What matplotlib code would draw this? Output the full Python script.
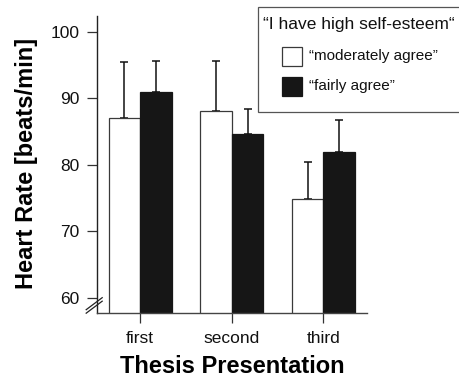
import matplotlib
matplotlib.use("Agg")
import numpy as np
import matplotlib.pyplot as plt
from matplotlib.patches import Rectangle
from matplotlib.lines import Line2D

plt.rcParams['font.family'] = ['Liberation Sans', 'DejaVu Sans']

# data
presentations = ["first", "second", "third"]
moderately_mean = [87.1, 88.1, 74.9]
moderately_sd = [8.35, 7.55, 5.5]
fairly_mean = [91.0, 84.7, 82.0]
fairly_sd = [4.55, 3.75, 4.7]
yticks = [60, 70, 80, 90, 100]
legend_title = '“I have high self-esteem“'
legend_labels = ['“moderately agree”', '“fairly agree”']

W, H = 460, 383
fig = plt.figure(figsize=(W / 100, H / 100), dpi=100)
ax = fig.add_axes([0.2102, 0.1836, 0.5876, 0.7746])

x = np.arange(len(presentations))
w = 0.345
zeros = np.zeros(len(x))
white_fc, white_ec = 'white', '#3a3a3a'
black_fc = '#161616'

ax.bar(x - w / 2, moderately_mean, w, color=white_fc, edgecolor=white_ec,
       linewidth=0.9, zorder=2)
ax.bar(x + w / 2, fairly_mean, w, color=black_fc, edgecolor=black_fc,
       linewidth=0.9, zorder=2)
ax.errorbar(x - w / 2, moderately_mean, yerr=[zeros, moderately_sd], fmt='none',
            ecolor='#111111', elinewidth=1.1, capsize=3, capthick=1.1, zorder=1)
ax.errorbar(x + w / 2, fairly_mean, yerr=[zeros, fairly_sd], fmt='none',
            ecolor='#111111', elinewidth=1.1, capsize=3, capthick=1.1, zorder=1)

ax.set_xlim(-0.474, 2.475)
ax.set_ylim(57.8, 102.35)
ax.set_yticks(yticks)
ax.set_xticks(x)
ax.set_xticklabels(presentations)

for s in ['top', 'right']:
    ax.spines[s].set_visible(False)
ax.spines['left'].set_color('#222222')
ax.spines['bottom'].set_color('#444444')
ax.spines['left'].set_linewidth(1.0)
ax.spines['bottom'].set_linewidth(1.0)
ax.tick_params(axis='both', direction='out', length=7.2, width=0.9,
               color='#333333', labelsize=12.5, labelcolor='#111111')
ax.tick_params(axis='y', pad=5)
ax.tick_params(axis='x', pad=6)

ax.set_ylabel('Heart Rate [beats/min]', fontsize=17, fontweight='bold', va='center')
ax.yaxis.set_label_coords(-0.259, 0.5045)
ax.set_xlabel('Thesis Presentation', fontsize=17, fontweight='bold', va='center')
ax.xaxis.set_label_coords(0.5, -0.183)

# axis break marks on the y axis
axw = 270.3
axh = 296.7
for dy in [0.0, 3.5]:
    ax.add_line(Line2D([-10.5 / axw, 5.5 / axw], [(-0.5 + dy) / axh, (11.5 + dy) / axh],
                       transform=ax.transAxes, color='#222222', lw=0.9, clip_on=False))


# legend box drawn by hand in pixel positions (top-left origin)
def fx(px):
    return px / W


def fy(py):
    return 1 - py / H


fig.add_artist(Rectangle((fx(257.7), fy(111.7)), fx(463) - fx(257.7), fy(6.7) - fy(111.7),
                         transform=fig.transFigure, facecolor='white', edgecolor='#555555',
                         linewidth=0.9, clip_on=False, zorder=5))
fig.text(fx(263.3), fy(29.3), legend_title, fontsize=12.5, va='baseline', ha='left',
         color='#111111', zorder=6)
swatches = [(46.7, white_fc, white_ec), (76.9, black_fc, black_fc)]
for (top, fc, ec), lab in zip(swatches, legend_labels):
    fig.add_artist(Rectangle((fx(282.3), fy(top + 19.3)), fx(301.5) - fx(282.3), 19.3 / H,
                             transform=fig.transFigure, facecolor=fc, edgecolor=ec,
                             linewidth=0.9, zorder=6))
    fig.text(fx(309), fy(top + 13.4), lab, fontsize=11, va='baseline', ha='left',
             color='#111111', zorder=6)

fig.savefig('out.png', dpi=100)
